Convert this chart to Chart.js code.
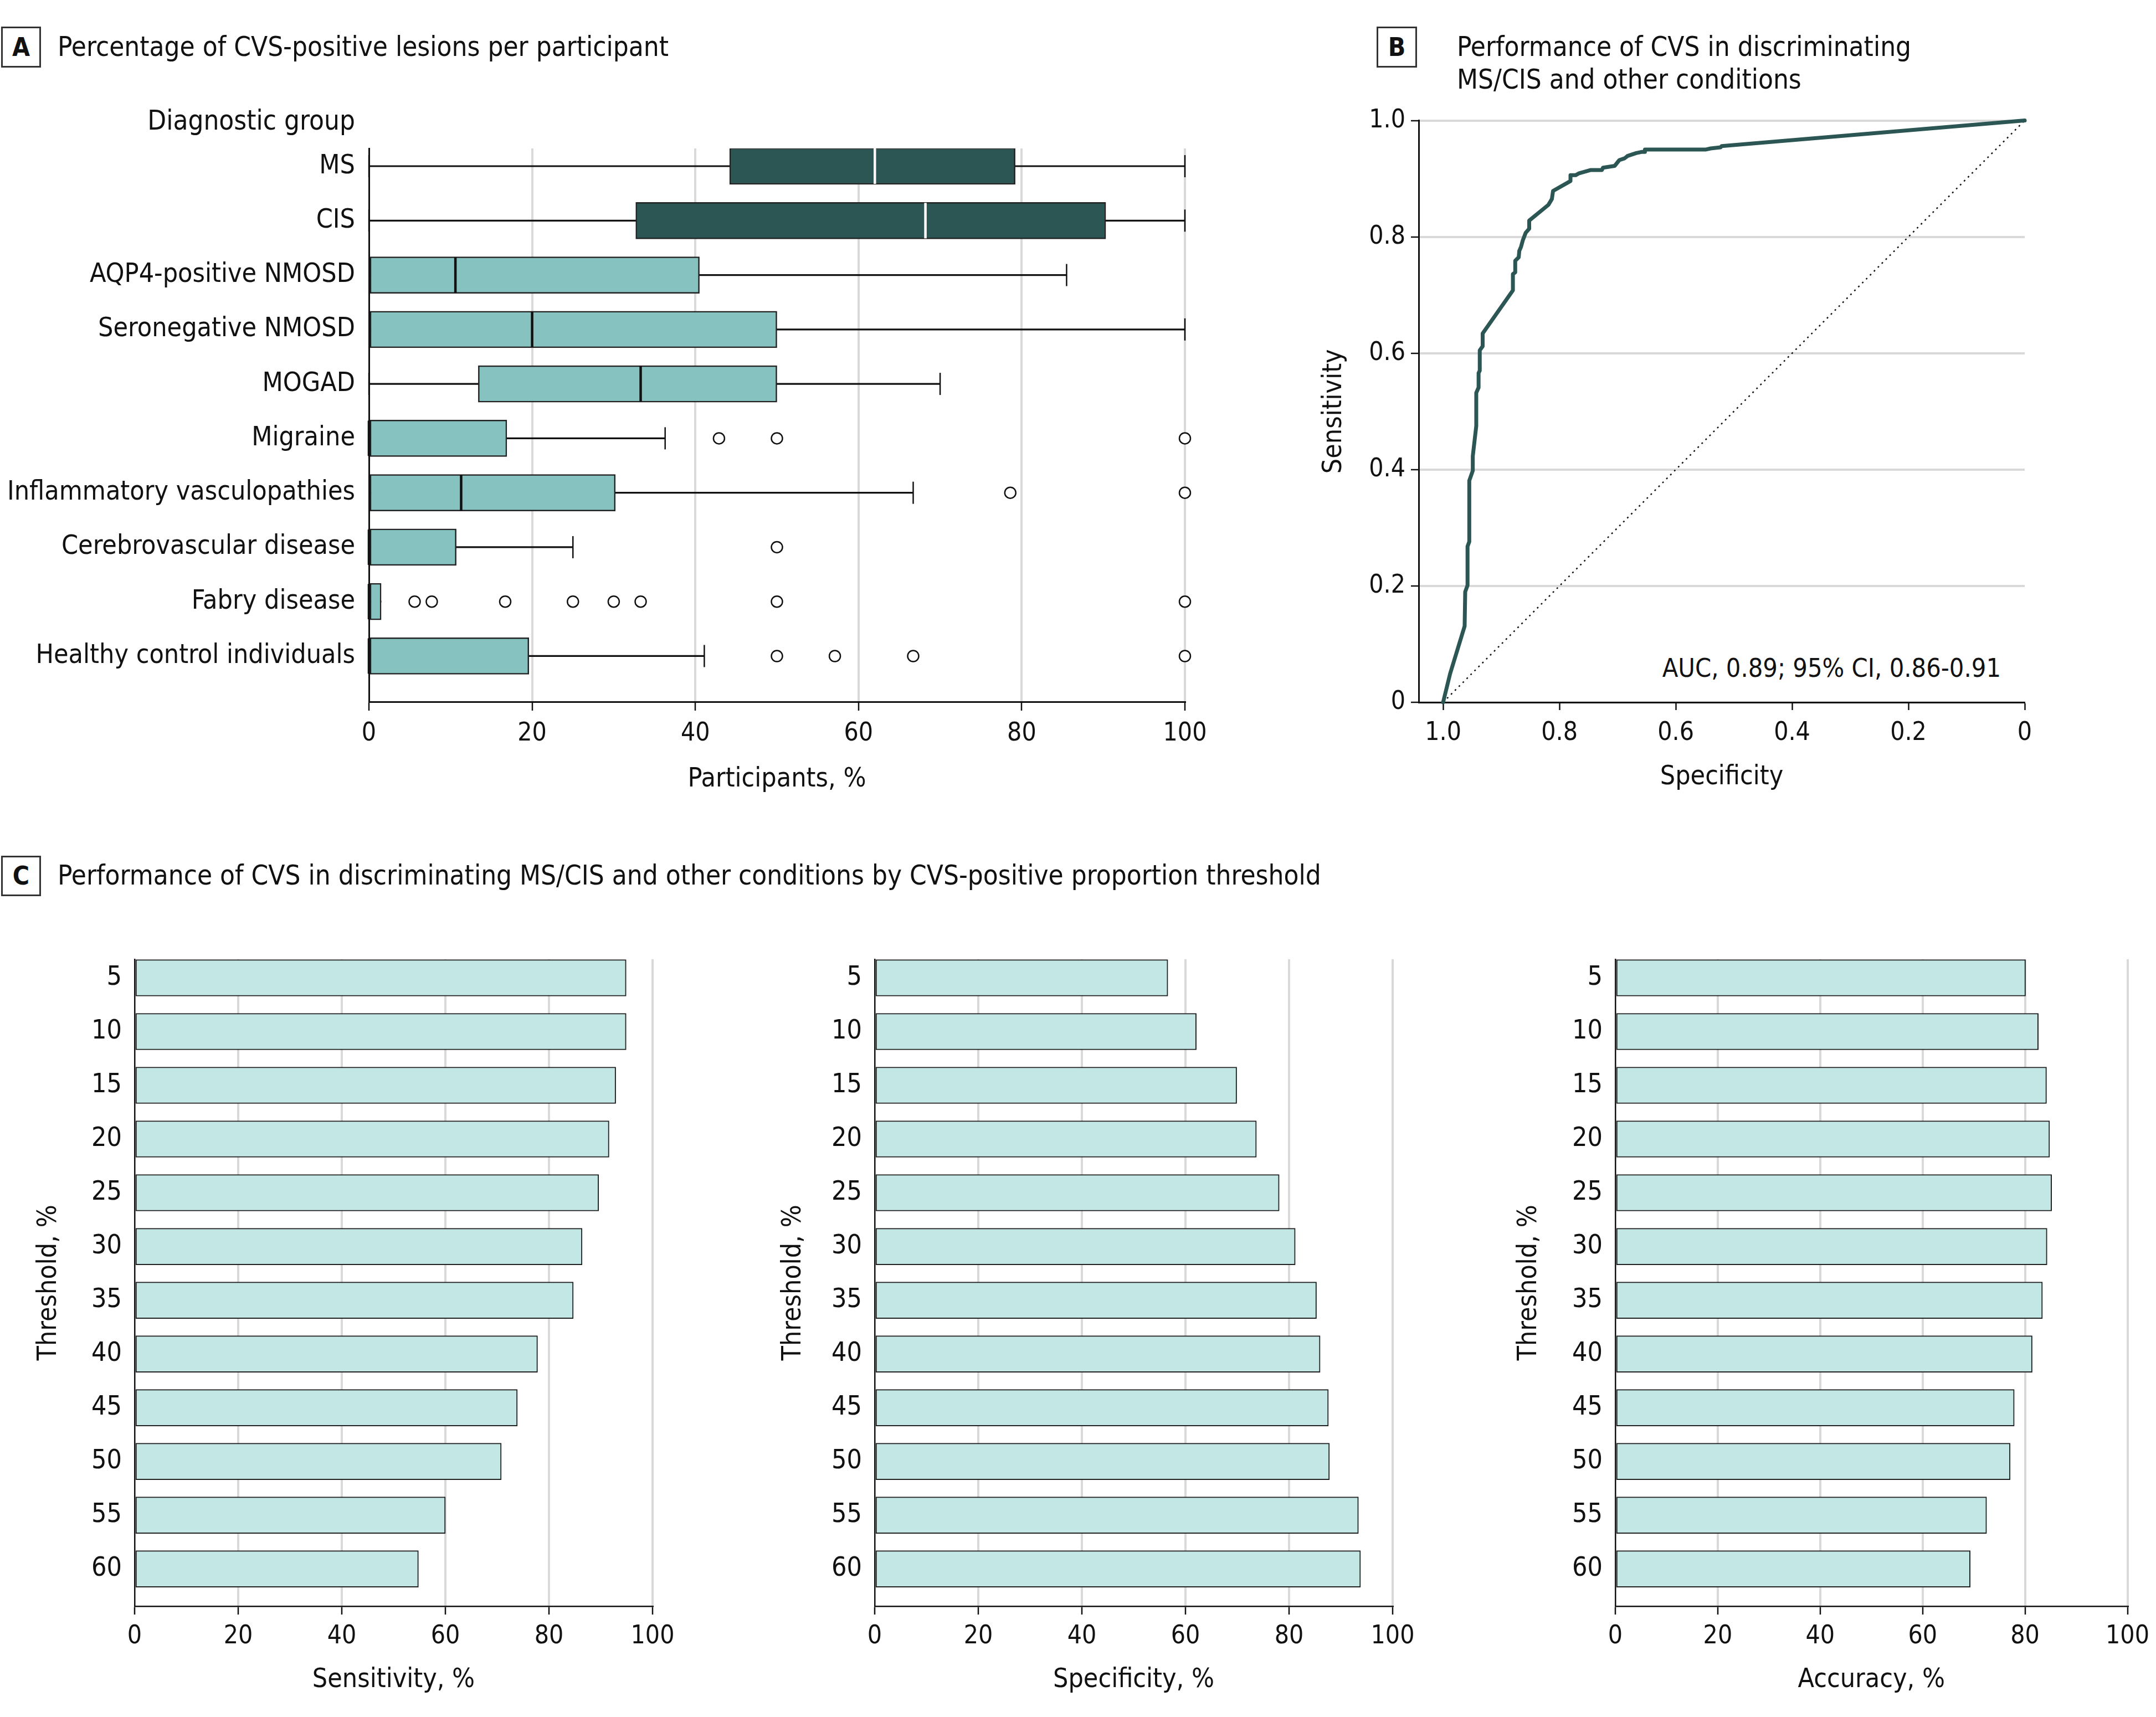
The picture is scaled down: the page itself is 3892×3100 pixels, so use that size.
<!DOCTYPE html>
<html>
<head>
<meta charset="utf-8">
<script src="https://cdn.jsdelivr.net/npm/chart.js@4.4.1/dist/chart.umd.min.js"></script>
<style>
  html, body { margin: 0; padding: 0; background: #fff; }
  body { width: 3892px; height: 3100px; position: relative; overflow: hidden;
         font-family: 'DejaVu Sans Condensed', 'Liberation Sans', sans-serif; color: #111; }
  .tag { position: absolute; border: 3px solid #333; box-sizing: border-box; font-weight: bold;
         font-size: 46px; text-align: center; }
  .head { position: absolute; font-size: 49px; line-height: 58px; white-space: nowrap; }
  canvas { position: absolute; }
</style>
</head>
<body>
<div class="tag" style="left:2px;top:48px;width:72px;height:74px;line-height:68px">A</div>
<div class="head" style="left:104px;top:56px">Percentage of CVS-positive lesions per participant</div>
<div class="head" style="left:0;width:641px;top:189px;text-align:right">Diagnostic group</div>

<div class="tag" style="left:2485px;top:48px;width:73px;height:74px;line-height:68px">B</div>
<div class="head" style="left:2630px;top:55px;line-height:59px">Performance of CVS in discriminating<br>MS/CIS and other conditions</div>
<div class="head" style="right:280px;top:1177px;font-size:46.5px">AUC, 0.89; 95% CI, 0.86-0.91</div>

<div class="tag" style="left:2px;top:1545px;width:72px;height:73px;line-height:67px">C</div>
<div class="head" style="left:104px;top:1552px">Performance of CVS in discriminating MS/CIS and other conditions by CVS-positive proportion threshold</div>

<canvas id="boxA" width="2200" height="1280" style="left:0;top:180px"></canvas>
<canvas id="rocB" width="1480" height="1280" style="left:2300px;top:180px"></canvas>
<canvas id="sensC" width="1240" height="1420" style="left:0;top:1680px"></canvas>
<canvas id="specC" width="1270" height="1420" style="left:1300px;top:1680px"></canvas>
<canvas id="accC" width="1292" height="1420" style="left:2600px;top:1680px"></canvas>

<script>
// ---- panel A: box plot per diagnostic group (percent) ----
const groups = ['MS', 'CIS', 'AQP4-positive NMOSD', 'Seronegative NMOSD', 'MOGAD', 'Migraine',
  'Inflammatory vasculopathies', 'Cerebrovascular disease', 'Fabry disease', 'Healthy control individuals'];
const whiskerLow = [0, 0, 0, 0, 0, 0, 0, 0, 0, 0];
const q1 = [44.2, 32.7, 0, 0, 13.4, 0, 0, 0, 0, 0];
const median = [62.0, 68.2, 10.6, 20.0, 33.3, 0, 11.3, 0, 0, 0];
const q3 = [79.2, 90.3, 40.5, 50.0, 50.0, 16.9, 30.2, 10.7, 1.5, 19.6];
const whiskerHigh = [100, 100, 85.5, 100, 70.0, 36.3, 66.7, 25.0, 1.5, 41.1];
const outliers = [[], [], [], [], [], [42.9, 50, 100], [78.6, 100], [50],
  [5.6, 7.7, 16.7, 25, 30, 33.3, 50, 100], [50, 57.1, 66.7, 100]];
const pctTicks = [0, 20, 40, 60, 80, 100];

// ---- panel B: ROC curve ----
const rocSpecificity = [1.0, 0.988, 0.963, 0.962, 0.958, 0.958, 0.955, 0.955, 0.949, 0.949, 0.943, 0.943,
  0.939, 0.939, 0.937, 0.937, 0.932, 0.932, 0.880, 0.880, 0.876, 0.876, 0.870, 0.869, 0.866, 0.863,
  0.858, 0.852, 0.852, 0.819, 0.813, 0.811, 0.781, 0.781, 0.772, 0.767, 0.746, 0.727, 0.725, 0.705,
  0.697, 0.688, 0.683, 0.668, 0.659, 0.653, 0.653, 0.549, 0.540, 0.523, 0.521, 0];
const rocSensitivity = [0, 0.049, 0.131, 0.190, 0.201, 0.268, 0.276, 0.381, 0.398, 0.423, 0.475, 0.532,
  0.541, 0.566, 0.570, 0.605, 0.612, 0.634, 0.708, 0.736, 0.739, 0.759, 0.765, 0.776, 0.783, 0.794,
  0.807, 0.814, 0.828, 0.855, 0.865, 0.879, 0.896, 0.906, 0.906, 0.909, 0.915, 0.915, 0.919, 0.922,
  0.932, 0.935, 0.939, 0.944, 0.946, 0.946, 0.950, 0.950, 0.952, 0.954, 0.956, 1.0];
const rocTicks = [0, 0.2, 0.4, 0.6, 0.8, 1.0];

// ---- panel C: performance by threshold ----
const thresholds = [5, 10, 15, 20, 25, 30, 35, 40, 45, 50, 55, 60];
const sensitivity = [94.9, 94.9, 92.9, 91.6, 89.6, 86.4, 84.7, 77.8, 73.9, 70.8, 60.0, 54.8];
const specificity = [56.6, 62.1, 69.9, 73.7, 78.1, 81.2, 85.3, 86.0, 87.6, 87.8, 93.4, 93.8];
const accuracy = [80.1, 82.6, 84.2, 84.8, 85.2, 84.3, 83.4, 81.4, 77.9, 77.1, 72.5, 69.3];

const DARK = '#2b5654';
const LIGHT = '#86c2bf';
const BAR = '#c2e7e5';
const GRID = '#d9d9d9';
const INK = '#111';

Chart.defaults.font.family = "'DejaVu Sans Condensed', 'Liberation Sans', sans-serif";
Chart.defaults.color = INK;

const tickList = arr => s => { s.ticks = arr.map(v => ({ value: v })); };
const noZeroGrid = ctx => (ctx.tick && ctx.tick.value === 0 ? 'rgba(0,0,0,0)' : GRID);

// panel A
const darkRow = g => g === 'MS' || g === 'CIS';
const caps = [];
groups.forEach((g, i) => {
  if (whiskerHigh[i] > q3[i]) caps.push({ x: whiskerHigh[i], y: i });
  if (whiskerLow[i] < q1[i]) caps.push({ x: whiskerLow[i], y: i });
});

new Chart(document.getElementById('boxA'), {
  type: 'bar',
  data: {
    datasets: [
      {
        type: 'scatter', order: 0, clip: false,
        data: outliers.flatMap((list, i) => list.map(v => ({ x: v, y: i }))),
        pointStyle: 'circle', pointRadius: 10, pointBorderWidth: 2.5,
        pointBackgroundColor: '#fff', pointBorderColor: INK
      },
      {
        type: 'scatter', order: 1, clip: false,
        data: median.map((v, i) => ({ x: v, y: i })),
        pointStyle: 'line', pointRadius: 32, pointRotation: 90, pointBorderWidth: 4.5,
        pointBorderColor: groups.map(g => (darkRow(g) ? '#fff' : INK))
      },
      {
        type: 'scatter', order: 2, clip: false,
        data: caps,
        pointStyle: 'line', pointRadius: 20, pointRotation: 90, pointBorderWidth: 2.5,
        pointBorderColor: INK
      },
      {
        order: 3, grouped: false,
        data: q1.map((v, i) => ({ x: [v, q3[i]], y: i })),
        backgroundColor: groups.map(g => (darkRow(g) ? DARK : LIGHT)),
        borderColor: '#222', borderWidth: 2.5, borderSkipped: false, barThickness: 66
      },
      {
        order: 4, grouped: false,
        data: whiskerLow.map((v, i) => ({ x: [v, whiskerHigh[i]], y: i })),
        backgroundColor: INK, borderWidth: 0, barThickness: 2.5
      }
    ]
  },
  options: {
    indexAxis: 'y', responsive: false, animation: false, events: [],
    layout: { padding: { left: 0, top: 88, right: 61, bottom: 20 } },
    plugins: { legend: { display: false }, tooltip: { enabled: false } },
    scales: {
      x: {
        type: 'linear', min: 0, max: 100,
        afterBuildTicks: tickList(pctTicks),
        afterFit: s => { s.height = 173; },
        grid: { color: noZeroGrid, lineWidth: 4, tickColor: INK, tickLength: 16, tickWidth: 2.5 },
        border: { color: INK, width: 3 },
        ticks: { padding: 14, font: { size: 46 } },
        title: { display: true, text: 'Participants, %', font: { size: 48 }, padding: { top: 0, bottom: 4 } }
      },
      y: {
        type: 'linear', reverse: true, min: -0.326, max: 9.84, offset: false,
        afterBuildTicks: tickList(groups.map((g, i) => i)),
        afterFit: s => { s.width = 666; },
        grid: { display: false, drawTicks: false, offset: false },
        border: { color: INK, width: 3 },
        ticks: { padding: 25, autoSkip: false, font: { size: 48 }, callback: v => groups[v] }
      }
    }
  }
});

// panel B
new Chart(document.getElementById('rocB'), {
  type: 'scatter',
  data: {
    datasets: [
      {
        data: rocSpecificity.map((v, i) => ({ x: v, y: rocSensitivity[i] })),
        showLine: true, borderColor: DARK, borderWidth: 7, pointRadius: 0,
        borderJoinStyle: 'round', borderCapStyle: 'round', clip: false, order: 0
      },
      {
        data: [{ x: 1, y: 0 }, { x: 0, y: 1 }],
        showLine: true, borderColor: INK, borderWidth: 2.5, borderDash: [3, 7],
        pointRadius: 0, clip: false, order: 1
      }
    ]
  },
  options: {
    responsive: false, animation: false, events: [],
    layout: { padding: { left: 0, top: 35, right: 125, bottom: 19 } },
    plugins: { legend: { display: false }, tooltip: { enabled: false } },
    scales: {
      x: {
        type: 'linear', reverse: true, min: 0, max: 1.042,
        afterBuildTicks: tickList(rocTicks),
        afterFit: s => { s.height = 173; },
        grid: { drawOnChartArea: false, tickColor: INK, tickLength: 14, tickWidth: 2.5 },
        border: { color: INK, width: 3 },
        ticks: { padding: 14, font: { size: 46 }, callback: v => (v === 0 ? '0' : v.toFixed(1)) },
        title: { display: true, text: 'Specificity', font: { size: 48 }, padding: { top: 0, bottom: 9 } }
      },
      y: {
        type: 'linear', min: 0, max: 1,
        afterBuildTicks: tickList(rocTicks),
        afterFit: s => { s.width = 261; },
        grid: { color: GRID, lineWidth: 4, tickColor: INK, tickLength: 14, tickWidth: 2.5 },
        border: { color: INK, width: 3 },
        ticks: { padding: 10, font: { size: 46 }, callback: v => (v === 0 ? '0' : v.toFixed(1)) },
        title: { display: true, text: 'Sensitivity', font: { size: 48 }, padding: { top: 80, bottom: 0 } }
      }
    }
  }
});

// panel C
function thresholdChart(id, values, axisTitle, yAxisWidth, yTitlePad) {
  const canvas = document.getElementById(id);
  return new Chart(canvas, {
    type: 'bar',
    data: {
      datasets: [{
        data: thresholds.map((t, i) => ({ x: values[i], y: t })),
        backgroundColor: BAR, borderColor: '#222', borderWidth: 2,
        borderSkipped: false, barThickness: 66
      }]
    },
    options: {
      indexAxis: 'y', responsive: false, animation: false, events: [],
      layout: { padding: { left: 0, top: 41, right: canvas.width - yAxisWidth - 935, bottom: 10 } },
      plugins: { legend: { display: false }, tooltip: { enabled: false } },
      scales: {
        x: {
          type: 'linear', min: 0, max: 100,
          afterBuildTicks: tickList(pctTicks),
          afterFit: s => { s.height = 190; },
          grid: { color: noZeroGrid, lineWidth: 4, tickColor: INK, tickLength: 15, tickWidth: 2.5 },
          border: { color: INK, width: 2.5 },
          ticks: { padding: 12, font: { size: 46 } },
          title: { display: true, text: axisTitle, font: { size: 48 }, padding: { top: 0, bottom: 28 } }
        },
        y: {
          type: 'linear', reverse: true, min: 3.265, max: 63.47, offset: false,
          afterBuildTicks: tickList(thresholds),
          afterFit: s => { s.width = yAxisWidth; },
          grid: { display: false, drawTicks: false, offset: false },
          border: { color: INK, width: 2.5 },
          ticks: { padding: 23, autoSkip: false, font: { size: 48 } },
          title: { display: true, text: 'Threshold, %', font: { size: 48 }, padding: { top: yTitlePad, bottom: 0 } }
        }
      }
    }
  });
}

thresholdChart('sensC', sensitivity, 'Sensitivity, %', 243, 60);
thresholdChart('specC', specificity, 'Specificity, %', 279, 104);
thresholdChart('accC', accuracy, 'Accuracy, %', 316, 132);
</script>
</body>
</html>
